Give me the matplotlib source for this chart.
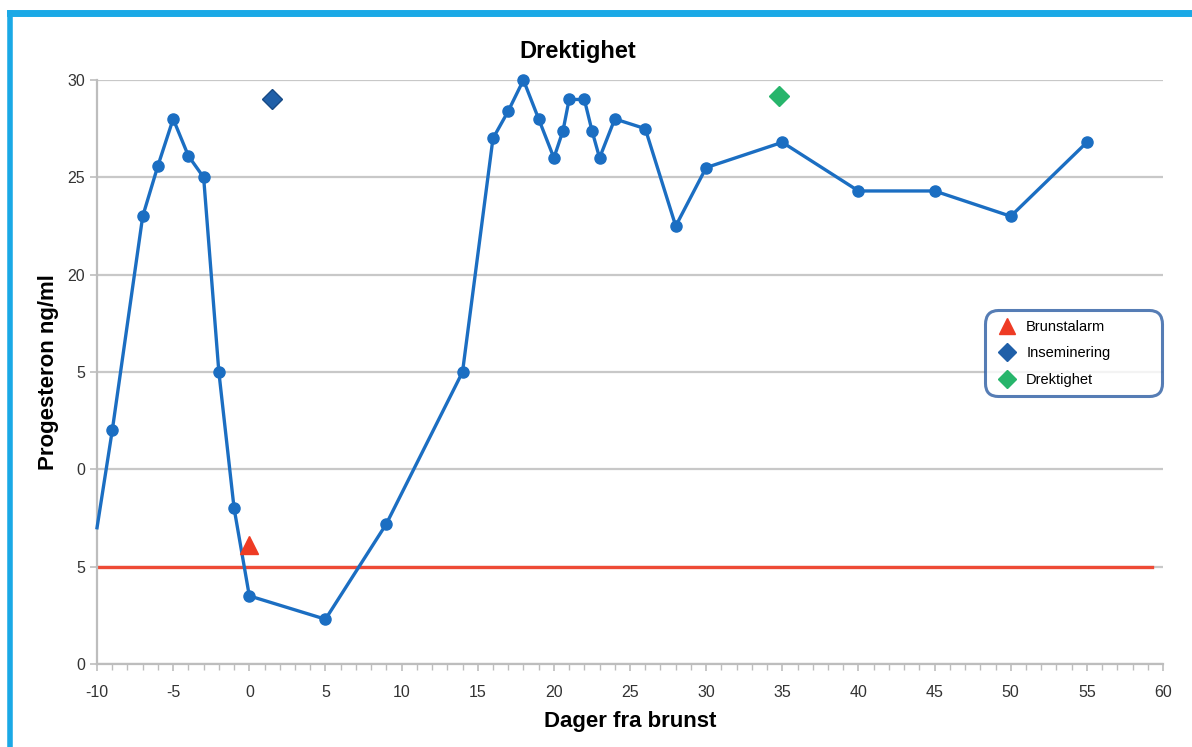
import matplotlib.pyplot as plt
from matplotlib.lines import Line2D
from matplotlib.ticker import MultipleLocator

plt.rcParams["font.family"] = ["Liberation Sans", "DejaVu Sans"]
plt.rcParams["axes.unicode_minus"] = False

# progesteronmålinger, dager fra brunst
dager = [-10, -9, -7, -6, -5, -4, -3, -2, -1, 0, 5, 9, 14, 16, 17, 18, 19, 20,
         20.6, 21, 22, 22.5, 23, 24, 26, 28, 30, 35, 40, 45, 50, 55]
progesteron = [7.0, 12.0, 23.0, 25.6, 28.0, 26.1, 25.0, 15.0, 8.0, 3.5, 2.3, 7.2,
               15.0, 27.0, 28.4, 30.0, 28.0, 26.0, 27.4, 29.0, 29.0, 27.4, 26.0,
               28.0, 27.5, 22.5, 25.5, 26.8, 24.3, 24.3, 23.0, 26.8]

# hendelser
brunstalarm = (0, 6.1)
inseminering = (1.5, 29.0)
drektighet = (34.8, 29.2)

grense = 5.0
grense_slutt = 59.3

y_ticks = [0, 5, 10, 15, 20, 25, 30]
y_labels = ["0", "5", "0", "5", "20", "25", "30"]

blaa = "#1b6ec2"
fig = plt.figure(figsize=(11.92, 7.47), dpi=100)
ax = fig.add_axes([0.0814, 0.1111, 0.8943, 0.7818])

ax.plot([-10, grense_slutt], [grense, grense], color="#ee4a35", lw=2.4, zorder=2)
ax.plot(dager, progesteron, color=blaa, lw=2.4, marker="o", markersize=8,
        markevery=slice(1, None), zorder=3, clip_on=False)
ax.plot(*brunstalarm, marker="^", color="#ee3b24", markersize=13, ls="none", zorder=4)
ax.plot(*inseminering, marker="D", color="#1f5fa8", markeredgecolor="#174a85",
        markersize=10, ls="none", zorder=4)
ax.plot(*drektighet, marker="D", color="#27b56b", markersize=10, ls="none", zorder=4)

ax.set_xlim(-10, 60)
ax.set_ylim(0, 30)
ax.xaxis.set_major_locator(MultipleLocator(5))
ax.xaxis.set_minor_locator(MultipleLocator(1))
ax.set_yticks(y_ticks)
ax.set_yticklabels(y_labels)
ax.yaxis.grid(True, color="#c8c8c8", lw=1.6)
ax.set_axisbelow(True)
for side in ["top", "right"]:
    ax.spines[side].set_visible(False)
for side in ["left", "bottom"]:
    ax.spines[side].set_color("#bdbdbd")
    ax.spines[side].set_linewidth(1.6)
ax.tick_params(axis="both", which="major", color="#bdbdbd", length=5, width=1.2,
               labelsize=11.5, labelcolor="#333333")
ax.tick_params(axis="x", which="minor", color="#bdbdbd", length=4, width=1)
ax.tick_params(axis="x", which="major", pad=10)

ax.set_title("Drektighet", fontsize=17, fontweight="bold", x=0.451, pad=16)
ax.set_xlabel("Dager fra brunst", fontsize=16, fontweight="bold", labelpad=8)
ax.set_ylabel("Progesteron ng/ml", fontsize=16, fontweight="bold", labelpad=6)

handles = [
    Line2D([], [], marker="^", color="#ee3b24", ls="none", markersize=12),
    Line2D([], [], marker="D", color="#1f5fa8", ls="none", markersize=9),
    Line2D([], [], marker="D", color="#27b56b", ls="none", markersize=9),
]
leg = ax.legend(handles, ["Brunstalarm", "Inseminering", "Drektighet"],
                loc="upper left", bbox_to_anchor=(0.834, 0.0, 0.164, 0.603),
                mode="expand", fontsize=10.5, frameon=True, fancybox=True,
                handletextpad=0.4, borderpad=0.55, labelspacing=0.85,
                handlelength=1.8, borderaxespad=0)
frame = leg.get_frame()
frame.set_edgecolor("#2c5da3")
frame.set_linewidth(2.2)
frame.set_boxstyle("round,pad=0.1,rounding_size=0.9")

# ramme rundt figuren
kant = "#1aa9e6"
fig.add_artist(Line2D([0.0085, 1.0], [0.983, 0.983], color=kant, lw=5,
                      transform=fig.transFigure))
fig.add_artist(Line2D([0.0085, 0.0085], [0.0, 0.983], color=kant, lw=4,
                      transform=fig.transFigure))

fig.savefig("out.png", dpi=100)
